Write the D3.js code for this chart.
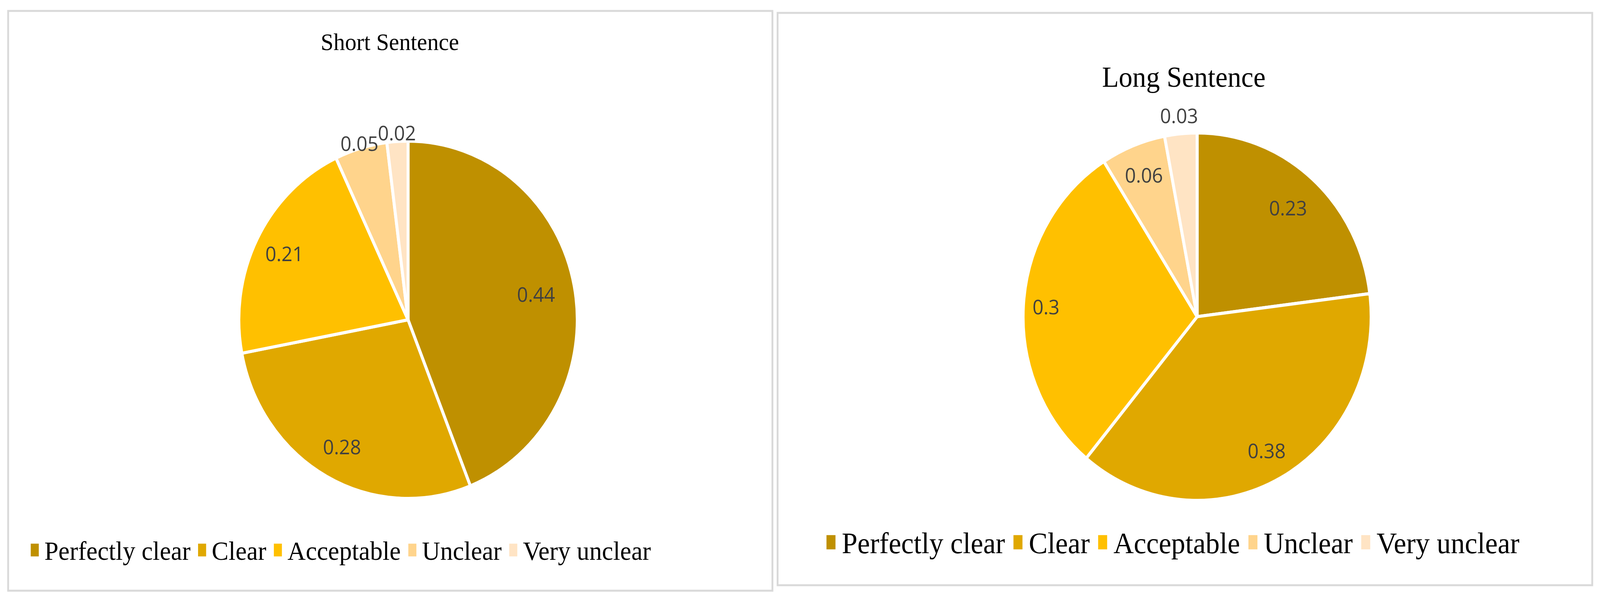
<!DOCTYPE html>
<html><head><meta charset="utf-8">
<script src="https://cdn.jsdelivr.net/npm/d3@7"></script>
<style>html,body{margin:0;width:100%;height:100%;overflow:hidden;background:#fff}#chart{width:100%;height:100%}</style></head>
<body><div id="chart"></div>
<script>
var categories = ["Perfectly clear","Clear","Acceptable","Unclear","Very unclear"];
var shortValues = [0.44,0.28,0.21,0.05,0.02];
var longValues = [0.23,0.38,0.3,0.06,0.03];
var colors = ["#BF9000","#E0A800","#FFC000","#FFD48C","#FFE4C4"];

var svg = d3.select("#chart").append("svg")
  .attr("viewBox","0 0 4321 1522").attr("preserveAspectRatio","none")
  .attr("width","100%").attr("height","100%");

var panels = [
  {title:"Short Sentence", values:shortValues, box:[22,28,2064,1483], cx:1102, cy:818, r:457,
   lr:[0.77,0.81,0.82,1.03,1.05],
   tx:1053, ty:128, tsize:62, ly:1432, lx0:83, lsize:68},
  {title:"Long Sentence", values:longValues, box:[2100,33,2200,1464], cx:3233, cy:810, r:470,
   lr:[0.79,0.83,0.87,0.83,1.1],
   tx:3197, ty:222, tsize:74, ly:1415, lx0:2232, lsize:76}
];

var color = d3.scaleOrdinal().domain(categories).range(colors);

panels.forEach(function(p){
  var g = svg.append("g");
  g.append("rect").attr("x",p.box[0]).attr("y",p.box[1])
    .attr("width",p.box[2]).attr("height",p.box[3])
    .attr("fill","#fff").attr("stroke","#d9d9d9").attr("stroke-width",5);

  g.append("text").attr("x",p.tx).attr("y",p.ty)
    .attr("text-anchor","middle").attr("font-family","Liberation Serif, DejaVu Serif")
    .attr("font-size",p.tsize).attr("fill","#000").text(p.title);

  var pie = d3.pie().sort(null).value(function(d){return d.v;});
  var data = pie(categories.map(function(c,i){return {c:c,v:p.values[i],i:i};}));
  var arc = d3.arc().innerRadius(0).outerRadius(p.r);
  var pg = g.append("g").attr("transform","translate("+p.cx+","+p.cy+")");

  pg.selectAll("path").data(data).enter().append("path")
    .attr("d",arc).attr("fill",function(d){return color(d.data.c);})
    .attr("stroke","#fff").attr("stroke-width",8).attr("stroke-linejoin","round");

  pg.selectAll("text").data(data).enter().append("text")
    .attr("transform",function(d){
      var a = (d.startAngle+d.endAngle)/2;
      var rr = p.r*p.lr[d.data.i];
      return "translate("+(Math.sin(a)*rr)+","+(-Math.cos(a)*rr)+")";
    })
    .attr("text-anchor","middle").attr("dominant-baseline","central")
    .attr("font-family","Open Sans").attr("font-size",52).attr("fill","#404040")
    .text(function(d){return d.data.v;});

  // legend
  var x = p.lx0, sq = p.lsize*0.32;
  categories.forEach(function(c){
    var it = g.append("g").attr("transform","translate("+x+","+p.ly+")");
    it.append("rect").attr("x",0).attr("y",-sq*1.9).attr("width",sq).attr("height",sq*1.5).attr("fill",color(c));
    var t = it.append("text").attr("x",sq*1.7).attr("y",0)
      .attr("font-family","Liberation Serif, DejaVu Serif").attr("font-size",p.lsize)
      .attr("fill","#000").text(c);
    x += sq*1.7 + t.node().getComputedTextLength() + p.lsize*0.3;
  });
});
</script></body></html>
